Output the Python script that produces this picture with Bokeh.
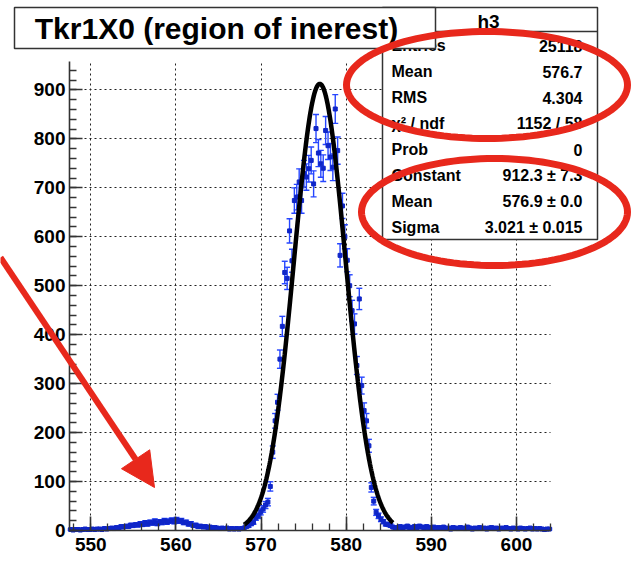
import numpy as np
from bokeh.plotting import figure
from bokeh.models import (Range1d, FixedTicker, BoxAnnotation, Label, PolyAnnotation,
                          Arrow, NormalHead, ColumnDataSource, Grid)
from bokeh.embed import file_html
from bokeh.resources import INLINE

# ---------------- data ----------------
hist_lo, hist_hi = 547.5, 604.0

left_tail = [2, 1, 2, 2, 1, 2, 3, 2, 2, 3,
             2, 3, 3, 2, 4, 3, 4, 5, 4, 6,
             5, 8, 7, 9, 8, 11, 10, 12, 11, 14,
             12, 16, 13, 17, 15, 19, 14, 18, 16, 20,
             17, 19, 21, 18, 22, 19, 20, 16, 17, 13,
             14, 10, 11, 8, 9, 7, 8, 6, 7, 5,
             6, 5, 4, 5, 4, 5, 3, 4, 3, 4,
             3, 4]
peak_counts = [5, 8, 10, 14, 17, 26, 30, 38, 44, 52,
               58, 90, 160, 224, 262, 350, 417, 527, 515, 612,
               551, 674, 681, 712, 674, 729, 722, 739, 756, 708,
               821, 771, 749, 740, 817, 786, 763, 742, 861, 776,
               562, 663, 600, 552, 500, 449, 422, 337, 473, 296,
               245, 224, 173, 88, 60, 37, 30, 23, 18, 13,
               12, 10, 7, 5]
right_tail = [6, 8, 5, 7, 9, 5, 6, 8, 6, 9,
              7, 5, 8, 6, 5, 7, 4, 6, 5, 7,
              4, 5, 3, 6, 5, 4, 6, 5, 4, 7,
              5, 3, 5, 4, 6, 4, 5, 3, 5, 6,
              4, 5, 3, 5, 4, 6, 4, 3, 5, 4,
              3, 5, 4, 3, 4, 5, 3, 4, 3, 4,
              3, 2, 3, 3]

fit_const, fit_mean, fit_sigma = 912.3, 576.9, 3.021
fit_lo, fit_hi = 568.0, 585.5

x_ticks = [550, 560, 570, 580, 590, 600]
y_ticks = [0, 100, 200, 300, 400, 500, 600, 700, 800, 900]
y_max = 958

title_text = "Tkr1X0 (region of inerest)"
hist_name = "h3"
stat_names = ["Entries", "Mean", "RMS", "\u03c7\u00b2 / ndf", "Prob", "Constant", "Mean", "Sigma"]
stat_values = ["25118", "576.7", "4.304", "1152 / 58", "0",
               "912.3 \u00b1 7.3", "576.9 \u00b1 0.0", "3.021 \u00b1 0.015"]

# ---------------- layout (pixels) ----------------
W, H = 634, 564
AX_LEFT, AX_RIGHT, AX_TOP, AX_BOTTOM = 69, 550, 61, 530   # plotting area in canvas px

sx = (AX_RIGHT - AX_LEFT) / (hist_hi - hist_lo)
sy = (AX_BOTTOM - AX_TOP) / y_max
x_start = hist_lo - AX_LEFT / sx
x_end = x_start + W / sx
y_start = 0 - (H - AX_BOTTOM) / sy
y_end = y_start + H / sy

# ---------------- derived ----------------
counts = np.array(left_tail + peak_counts + right_tail, dtype=float)
nb = len(counts)
bw = (hist_hi - hist_lo) / nb
centers = hist_lo + (np.arange(nb) + 0.5) * bw
err = np.sqrt(counts)
src = ColumnDataSource(dict(x=centers, y=counts, lo=counts - err, hi=counts + err))

fx = np.linspace(fit_lo, fit_hi, 400)
fy = fit_const * np.exp(-0.5 * ((fx - fit_mean) / fit_sigma) ** 2)

FONT = "Liberation Sans"
RED = "#e8281c"
EBAR = "#2646ff"
MARK = "#0f26c8"
AXC = "#333333"

p = figure(width=W, height=H, x_range=Range1d(x_start, x_end), y_range=Range1d(y_start, y_end),
           output_backend="svg", toolbar_location=None,
           min_border_left=0, min_border_right=0, min_border_top=0, min_border_bottom=0)
p.title.visible = False
p.outline_line_color = None
p.background_fill_color = "white"
p.border_fill_color = "white"

p.xaxis.ticker = FixedTicker(ticks=x_ticks, minor_ticks=list(range(548, 605, 2)))
p.yaxis.ticker = FixedTicker(ticks=y_ticks, minor_ticks=list(range(0, y_max, 20)))
p.xaxis.fixed_location = 0
p.yaxis.fixed_location = hist_lo
p.xaxis.bounds = (hist_lo, hist_hi)
p.yaxis.bounds = (0, y_max)
for ax in (p.xaxis[0], p.yaxis[0]):
    ax.axis_line_color = AXC
    ax.axis_line_width = 1.6
    ax.major_tick_line_color = AXC
    ax.major_tick_line_width = 1.6
    ax.minor_tick_line_color = AXC
    ax.minor_tick_line_width = 1.3
    ax.major_tick_out = 0
    ax.minor_tick_out = 0
    ax.minor_tick_in = 7
    ax.major_label_text_font = FONT
    ax.major_label_text_font_style = "bold"
    ax.major_label_text_font_size = "19px"
    ax.major_label_text_color = "black"
p.xaxis.major_tick_in = 14
p.yaxis.major_tick_in = 13
p.xaxis.major_label_standoff = 7
p.yaxis.major_label_standoff = 4

has_cross = "cross_bounds" in Grid.properties()
for g in (p.xgrid[0], p.ygrid[0]):
    g.grid_line_color = "#222222"
    g.grid_line_width = 1
    g.grid_line_dash = "2 3"
if has_cross:
    p.xgrid.cross_bounds = (0, y_max)
    p.ygrid.cross_bounds = (hist_lo, hist_hi)
else:
    p.xgrid.visible = False
    p.ygrid.visible = False
    gx = [t for t in x_ticks]
    gy = [t for t in y_ticks if t > 0]
    p.segment(x0=gx, y0=[0] * len(gx), x1=gx, y1=[y_max] * len(gx),
              line_color="#222222", line_width=1, line_dash="2 3")
    p.segment(x0=[hist_lo] * len(gy), y0=gy, x1=[hist_hi] * len(gy), y1=gy,
              line_color="#222222", line_width=1, line_dash="2 3")

# histogram points with errors
p.segment(x0="x", y0="lo", x1="x", y1="hi", source=src, line_color=EBAR, line_width=1.4)
p.scatter(x="x", y="lo", source=src, marker="dash", size=6, line_color=EBAR, line_width=1.4)
p.scatter(x="x", y="hi", source=src, marker="dash", size=6, line_color=EBAR, line_width=1.4)
p.scatter(x="x", y="y", source=src, marker="square", size=4, fill_color=MARK, line_color=MARK)

# fit curve
p.line(fx, fy, line_color="black", line_width=4.5)

# ---------------- stats box ----------------
def box(l, r, t, b, **kw):
    return BoxAnnotation(left=l, right=r, top=t, bottom=b,
                         left_units="canvas", right_units="canvas",
                         top_units="canvas", bottom_units="canvas", **kw)

def lab(x, y, text, size, align="left", baseline="middle"):
    return Label(x=x, y=y, x_units="canvas", y_units="canvas", text=text,
                 text_font=FONT, text_font_style="bold", text_font_size=size,
                 text_align=align, text_baseline=baseline, text_color="black")

p.add_layout(box(382, 597, 7, 239, fill_color="white", fill_alpha=1.0,
                 line_color=AXC, line_alpha=1.0, line_width=1.5))
p.add_layout(box(382, 597, 30.3, 31.8, fill_color=AXC, fill_alpha=1.0, line_color=None))
p.add_layout(lab(488, 21, hist_name, "19px", align="center"))
for k, (nm, vl) in enumerate(zip(stat_names, stat_values)):
    yc = 45 + 26.0 * k
    p.add_layout(lab(391, yc, nm, "16px"))
    p.add_layout(lab(582, yc, vl, "16px", align="right"))

# title box
p.add_layout(box(14, 435, 7, 48, fill_color="white", fill_alpha=1.0,
                 line_color=AXC, line_alpha=1.0, line_width=1.5))
p.add_layout(lab(216, 28, title_text, "30px", align="center"))

# red annotations
def ellipse(cx, cy, rx, ry, n=120):
    t = np.linspace(0, 2 * np.pi, n, endpoint=False)
    return list(cx + rx * np.cos(t)), list(cy + ry * np.sin(t))

for (cx, cy, rx, ry) in [(486.5, 84.5, 140.5, 53.5), (494, 211.5, 133, 53.5)]:
    xs, ys = ellipse(cx, cy, rx, ry)
    p.add_layout(PolyAnnotation(xs=xs, ys=ys, xs_units="canvas", ys_units="canvas",
                                fill_alpha=0, line_color=RED, line_alpha=1.0, line_width=7))

p.add_layout(Arrow(end=NormalHead(size=34, fill_color=RED, line_color=RED),
                   x_start=0, y_start=257, x_end=154, y_end=487,
                   start_units="canvas", end_units="canvas",
                   line_color=RED, line_width=6))

open("out.html", "w").write(file_html(p, INLINE))
